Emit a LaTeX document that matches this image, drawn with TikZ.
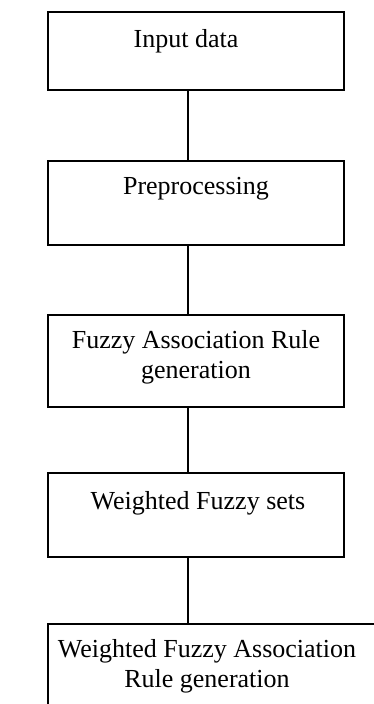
\documentclass[tikz,border=0pt]{standalone}
\usepackage{fontspec}
\setmainfont{Liberation Serif}
\begin{document}
\begin{tikzpicture}[x=1pt,y=-1pt,
  flowbox/.style={draw=black,line width=1.6pt,fill=white},
  flowtext/.style={font=\fontsize{26}{30}\selectfont,align=center,anchor=base,inner sep=0pt},
  link/.style={draw=black,line width=1.6pt}]
\useasboundingbox (0,0) rectangle (374,704);
\path[fill=white] (0,0) rectangle (374,704);
% boxes
\draw[flowbox] (48,12) rectangle (344,90);
\draw[flowbox] (48,161) rectangle (344,245);
\draw[flowbox] (48,315) rectangle (344,407);
\draw[flowbox] (48,473) rectangle (344,557);
\draw[flowbox] (48,624) rectangle (390,720);
% texts
\node[flowtext] (t1) at (186,47) {Input data};
\node[flowtext] (t2) at (196,194) {Preprocessing};
\node[flowtext] (t3) at (196,378) {Fuzzy Association Rule\\generation};
\node[flowtext] (t4) at (198,509) {Weighted Fuzzy sets};
\node[flowtext] (t5) at (207,687) {Weighted Fuzzy Association\\Rule generation};
% connectors
\coordinate (c1a) at (188,90);  \coordinate (c1b) at (188,161);
\coordinate (c2a) at (188,245); \coordinate (c2b) at (188,315);
\coordinate (c3a) at (188,407); \coordinate (c3b) at (188,473);
\coordinate (c4a) at (188,557); \coordinate (c4b) at (188,624);
\draw[link] (c1a) -- (c1b);
\draw[link] (c2a) -- (c2b);
\draw[link] (c3a) -- (c3b);
\draw[link] (c4a) -- (c4b);
\end{tikzpicture}
\end{document}
